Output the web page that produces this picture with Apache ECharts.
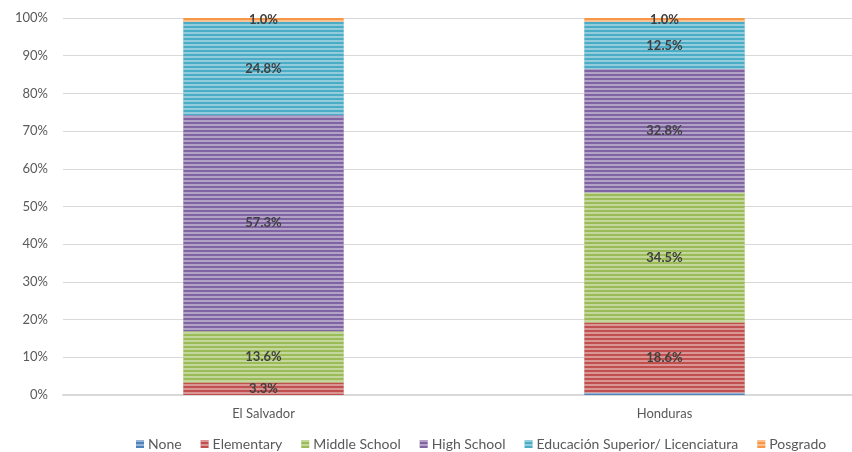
<!DOCTYPE html>
<html>
<head>
<meta charset="utf-8">
<script src="https://cdn.jsdelivr.net/npm/echarts@6/dist/echarts.min.js"></script>
<style>
  html, body { margin: 0; padding: 0; background: #fff; }
  #chart { width: 852px; height: 452px; }
</style>
</head>
<body>
<div id="chart"></div>
<script>
// Education level by country, share of respondents (%)
const categories = ['El Salvador', 'Honduras'];
const seriesNames = ['None', 'Elementary', 'Middle School', 'High School', 'Educación Superior/ Licenciatura', 'Posgrado'];
const noneVals = [0, 0.6];
const elementaryVals = [3.3, 18.6];
const middleVals = [13.6, 34.5];
const highVals = [57.3, 32.8];
const superiorVals = [24.8, 12.5];
const posgradoVals = [1.0, 1.0];
const yTicks = [0, 10, 20, 30, 40, 50, 60, 70, 80, 90, 100];

const palette = ['#4F81BD', '#C0504D', '#9BBB59', '#8064A2', '#4BACC6', '#F79646'];
const allVals = [noneVals, elementaryVals, middleVals, highVals, superiorVals, posgradoVals];

const font = 'Lato, "Open Sans", sans-serif';

const chart = echarts.init(document.getElementById('chart'), null, { renderer: 'canvas' });

const series = seriesNames.map((name, i) => ({
  name,
  type: 'bar',
  stack: 'total',
  barWidth: '40%',
  data: allVals[i],
  itemStyle: {
    color: palette[i],
    decal: {
      symbol: 'rect',
      symbolSize: 1,
      dashArrayX: [1, 0],
      dashArrayY: [2, 2],
      rotation: 0,
      color: 'rgba(255,255,255,0.4)'
    }
  },
  label: {
    show: i > 0,
    position: 'inside',
    formatter: p => p.value > 0 ? p.value.toFixed(1) + '%' : '',
    color: '#404040',
    fontWeight: 'bold',
    fontSize: 13,
    fontFamily: font
  },
  emphasis: { disabled: true }
}));

chart.setOption({
  animation: false,
  aria: { enabled: true, decal: { show: true } },
  color: palette,
  grid: { left: 63, top: 18, width: 802, bottom: 57, containLabel: false, outerBoundsMode: 'none' },
  legend: {
    data: seriesNames,
    top: 432,
    left: 131,
    itemWidth: 8,
    itemHeight: 8,
    itemGap: 19,
    icon: 'rect',
    textStyle: { color: '#595959', fontSize: 14, fontFamily: font, padding: [0, 0, 0, -1] }
  },
  xAxis: {
    type: 'category',
    data: categories,
    axisTick: { show: false },
    axisLine: { lineStyle: { color: '#d9d9d9', width: 2 } },
    axisLabel: { color: '#595959', fontSize: 13, fontFamily: font, margin: 12 }
  },
  yAxis: {
    type: 'value',
    min: 0,
    max: 100,
    interval: 10,
    axisLabel: {
      color: '#595959', fontSize: 13, fontFamily: font, margin: 15,
      formatter: v => yTicks.includes(v) ? v + '%' : ''
    },
    splitLine: { lineStyle: { color: '#d9d9d9', width: 1 } },
    axisLine: { show: false },
    axisTick: { show: false }
  },
  series
});
</script>
</body>
</html>
